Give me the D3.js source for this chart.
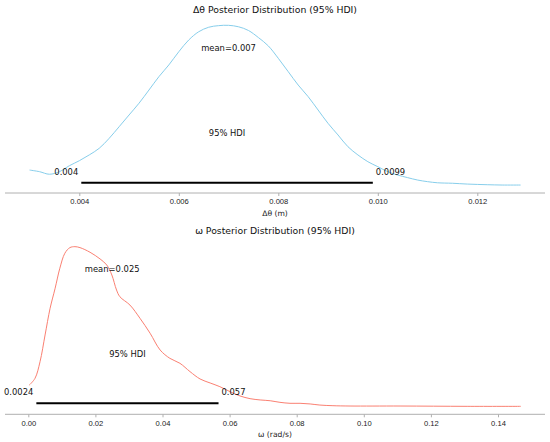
<!DOCTYPE html>
<html>
<head>
<meta charset="utf-8">
<script src="https://cdn.jsdelivr.net/npm/d3@7"></script>
<style>
  body { margin: 0; background: #fff; }
  svg { font-family: "DejaVu Sans", sans-serif; }
  .tick text { fill: #222; font-size: 7.6px; }
  .tick line { stroke: #b0b0b0; }
</style>
</head>
<body>
<svg id="chart" width="550" height="442"></svg>
<script>
// Δθ posterior: x in metres, density relative to peak
var thetaX = [0.0030, 0.0032, 0.0034, 0.0036, 0.0038, 0.0040, 0.0042, 0.0044, 0.0046, 0.0048,
  0.0050, 0.0052, 0.0054, 0.0056, 0.0058, 0.0060, 0.0062, 0.0064, 0.0066, 0.0068,
  0.0070, 0.0072, 0.0074, 0.0076, 0.0078, 0.0080, 0.0082, 0.0084, 0.0086, 0.0088,
  0.0090, 0.0092, 0.0094, 0.0096, 0.0098, 0.0100, 0.0102, 0.0104, 0.0106, 0.0108,
  0.0110, 0.0112, 0.0115, 0.0118, 0.0122, 0.0125, 0.01287];
var thetaD = [0.099, 0.089, 0.073, 0.089, 0.126, 0.157, 0.193, 0.234, 0.296, 0.368,
  0.441, 0.514, 0.596, 0.679, 0.752, 0.834, 0.907, 0.958, 0.986, 0.996,
  0.998, 0.989, 0.966, 0.922, 0.870, 0.793, 0.710, 0.627, 0.555, 0.472,
  0.389, 0.317, 0.244, 0.193, 0.151, 0.120, 0.089, 0.068, 0.052, 0.037,
  0.027, 0.020, 0.017, 0.012, 0.008, 0.006, 0.006];

// ω posterior: x in rad/s
var omegaX = [0.0003, 0.0020, 0.0035, 0.0050, 0.0065, 0.0080, 0.0094, 0.0109, 0.0124, 0.0139,
  0.0154, 0.0184, 0.0214, 0.0234, 0.0249, 0.0263, 0.0273, 0.0303, 0.0333, 0.0363,
  0.0393, 0.0422, 0.0452, 0.0482, 0.0512, 0.0542, 0.0571, 0.0601, 0.0631, 0.0661,
  0.0691, 0.0721, 0.0750, 0.0780, 0.0810, 0.0840, 0.0869, 0.0908, 0.0959, 0.1108,
  0.1308, 0.1468];
var omegaD = [0.134, 0.176, 0.280, 0.447, 0.614, 0.739, 0.864, 0.958, 0.993, 0.999,
  0.993, 0.964, 0.922, 0.884, 0.822, 0.728, 0.686, 0.634, 0.551, 0.458,
  0.353, 0.301, 0.270, 0.218, 0.172, 0.147, 0.124, 0.093, 0.066, 0.049,
  0.041, 0.036, 0.026, 0.020, 0.020, 0.016, 0.009, 0.005, 0.003, 0.003,
  0.001, 0.001];

var titles = ["Δθ Posterior Distribution (95% HDI)", "ω Posterior Distribution (95% HDI)"];
var xLabels = ["Δθ (m)", "ω (rad/s)"];
var means = [0.007, 0.025];
var meanLabels = ["mean=0.007", "mean=0.025"];
var hdis = [[0.00404, 0.0099], [0.0024, 0.0567]];
var hdiLabels = [["0.004", "0.0099"], ["0.0024", "0.057"]];
var thetaTicks = [0.004, 0.006, 0.008, 0.010, 0.012];
var omegaTicks = [0.00, 0.02, 0.04, 0.06, 0.08, 0.10, 0.12, 0.14];

var svg = d3.select("#chart");

var panels = [
  { xs: thetaX, ds: thetaD, color: "#87ceeb", ticks: thetaTicks, fmt: d3.format(".3f"),
    xDomain: [0.004, 0.012], xRange: [79.3, 477.3], yRange: [186, 25], axisY: 193, titleY: 9.5, i: 0 },
  { xs: omegaX, ds: omegaD, color: "#fa8072", ticks: omegaTicks, fmt: d3.format(".2f"),
    xDomain: [0, 0.14], xRange: [28.3, 498], yRange: [406.5, 246.5], axisY: 414.3, titleY: 230.5, i: 1 }
];

panels.forEach(function(p) {
  var x = d3.scaleLinear().domain(p.xDomain).range(p.xRange);
  var y = d3.scaleLinear().domain([0, 1]).range(p.yRange);
  var g = svg.append("g");

  // title
  g.append("text")
    .attr("x", 275).attr("y", p.titleY)
    .attr("text-anchor", "middle").attr("dominant-baseline", "central")
    .style("font-size", "9.3px").style("fill", "#111")
    .text(titles[p.i]);

  // density curve
  var line = d3.line()
    .x(function(d, i) { return x(p.xs[i]); })
    .y(function(d) { return y(d); })
    .curve(d3.curveCatmullRom);
  g.append("path")
    .datum(p.ds)
    .attr("d", line)
    .attr("fill", "none")
    .attr("stroke", p.color)
    .attr("stroke-width", 1);

  // spine
  g.append("line")
    .attr("x1", 5).attr("x2", 545)
    .attr("y1", p.axisY).attr("y2", p.axisY)
    .attr("stroke", "#b0b0b0").attr("stroke-width", 1);

  var axis = g.append("g")
    .attr("transform", "translate(0," + p.axisY + ")")
    .call(d3.axisBottom(x).tickValues(p.ticks).tickFormat(p.fmt).tickSize(3).tickPadding(3));
  axis.select(".domain").remove();

  g.append("text")
    .attr("x", 275).attr("y", p.axisY + 20)
    .attr("text-anchor", "middle").attr("dominant-baseline", "central")
    .style("font-size", "7.6px").style("fill", "#222")
    .text(xLabels[p.i]);

  // HDI bar
  var h = hdis[p.i];
  g.append("line")
    .attr("x1", x(h[0])).attr("x2", x(h[1]))
    .attr("y1", y(0.02)).attr("y2", y(0.02))
    .attr("stroke", "#000").attr("stroke-width", 2);

  g.append("text")
    .attr("x", x(h[0]) - 3).attr("y", y(0.09))
    .attr("text-anchor", "end").attr("dominant-baseline", "central")
    .style("font-size", "8.4px").style("fill", "#111")
    .text(hdiLabels[p.i][0]);
  g.append("text")
    .attr("x", x(h[1]) + 3).attr("y", y(0.09))
    .attr("text-anchor", "start").attr("dominant-baseline", "central")
    .style("font-size", "8.4px").style("fill", "#111")
    .text(hdiLabels[p.i][1]);

  g.append("text")
    .attr("x", x((h[0] + h[1]) / 2)).attr("y", y(0.33))
    .attr("text-anchor", "middle").attr("dominant-baseline", "central")
    .style("font-size", "8.4px").style("fill", "#111")
    .text("95% HDI");

  g.append("text")
    .attr("x", x(means[p.i])).attr("y", y(0.857))
    .attr("text-anchor", "middle").attr("dominant-baseline", "central")
    .style("font-size", "8.4px").style("fill", "#111")
    .text(meanLabels[p.i]);
});
</script>
</body>
</html>
